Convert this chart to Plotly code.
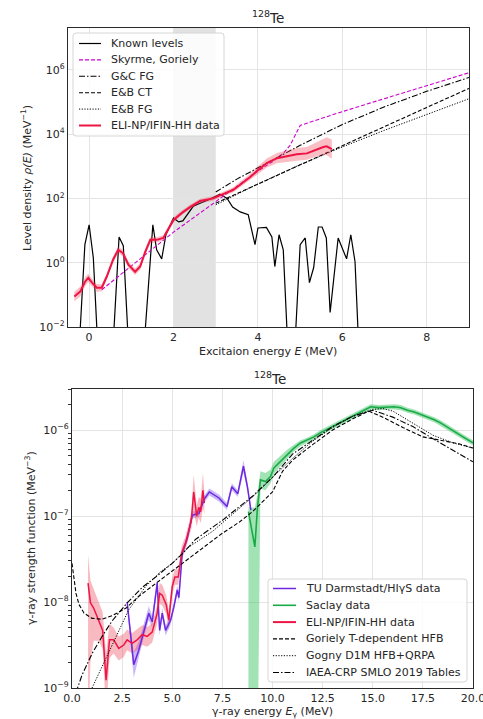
import numpy as np
import plotly.graph_objects as go

# ---------------- Top panel: level density of 128Te ----------------
known_E = [-0.25, -0.1, 0.0, 0.1, 0.22, 0.55, 0.71, 0.81, 0.95, 1.28, 1.51, 1.6, 1.72, 1.82,
           2.0, 2.12, 2.22, 2.35, 2.47, 2.63, 2.87, 3.1, 3.27, 3.4, 3.58, 3.77, 3.85, 3.93,
           4.0, 4.2, 4.33, 4.4, 4.5, 4.6, 4.72, 4.86, 5.0, 5.12, 5.22, 5.32, 5.43, 5.52,
           5.62, 5.71, 5.9, 6.1, 6.2, 6.3, 6.4]
known_log10 = [-3, 0.56, 1.18, 0.15, -3, -3, 0.8, 0.53, -3, -3, 1.18, 0.4, 0.12, 0.87,
               1.39, 1.27, 1.3, 1.55, 1.76, 1.85, 1.98, 2.13, 2.0, 1.73, 1.58, 1.49, 1.0, 0.56,
               1.08, 1.1, 0.8, -0.12, 0.87, 0.4, -3, -3, 0.56, 0.77, -0.62, -0.15, 1.11, 1.11,
               0.77, -1.55, 0.77, 0.12, 0.87, 0.03, -3]

eli_top_E = [-0.35, -0.21, -0.1, -0.02, 0.07, 0.18, 0.3, 0.42, 0.57, 0.69,
             0.8, 0.93, 1.09, 1.21, 1.33, 1.45, 1.6, 1.76, 1.84, 2.0,
             2.2, 2.39, 2.63, 2.94, 3.2, 3.41, 3.6, 3.81, 4.0, 4.21,
             4.45, 4.68, 4.92, 5.16, 5.4, 5.55, 5.63, 5.75]
eli_top_log10 = [-1.05, -0.9, -0.6, -0.47, -0.62, -0.78, -0.78, -0.43, 0.1, 0.4,
                 0.3, -0.06, -0.28, -0.12, 0.34, 0.71, 0.71, 0.77, 0.96, 1.33,
                 1.55, 1.73, 1.92, 2.0, 2.15, 2.26, 2.45, 2.66, 2.88, 3.1,
                 3.25, 3.31, 3.37, 3.4, 3.53, 3.6, 3.62, 3.53]
eli_top_err = [0.15, 0.15, 0.14, 0.13, 0.12, 0.12, 0.11, 0.1, 0.1, 0.1,
               0.1, 0.1, 0.1, 0.1, 0.1, 0.1, 0.08, 0.08, 0.08, 0.08,
               0.07, 0.07, 0.07, 0.07, 0.07, 0.08, 0.09, 0.1, 0.12, 0.14,
               0.16, 0.18, 0.2, 0.2, 0.22, 0.25, 0.28, 0.3]

skyrme_E = [0.3, 1.0, 2.0, 3.0, 4.0, 4.33, 4.6, 4.76, 5.0, 6.0, 7.0, 8.0, 9.0]
skyrme_log10 = [-0.84, -0.1, 0.95, 1.9, 2.85, 3.13, 3.4, 3.65, 4.27, 4.7, 5.1, 5.5, 5.91]

gc_fg_E = [3.0, 3.5, 4.0, 5.0, 6.0, 7.0, 8.0, 9.0]
gc_fg_log10 = [2.2, 2.6, 2.95, 3.65, 4.3, 4.85, 5.33, 5.76]

eb_ct_E = [3.0, 4.0, 5.0, 6.0, 7.0, 8.0, 9.0]
eb_ct_log10 = [1.85, 2.45, 3.04, 3.64, 4.23, 4.83, 5.42]

eb_fg_E = [3.0, 4.0, 5.0, 6.0, 7.0, 8.0, 9.0]
eb_fg_log10 = [1.8, 2.45, 3.05, 3.6, 4.12, 4.62, 5.1]

top_shade_E = [2.0, 3.0]
top_xticks = [0, 2, 4, 6, 8]
top_yticks_exp = [-2, 0, 2, 4, 6]

# ---------------- Bottom panel: gamma-ray strength function ----------------
eli_bot_E = [0.8, 0.92, 1.08, 1.33, 1.53, 1.7, 1.87, 2.08, 2.33, 2.58, 2.75, 3.0, 3.25, 3.5,
             3.75, 4.0, 4.25, 4.37, 4.5, 4.7, 4.83, 5.0, 5.13, 5.3, 5.47, 5.67, 5.83, 5.95,
             6.07, 6.22, 6.32, 6.42, 6.53, 6.6]
eli_bot_log10 = [-7.78, -8.01, -8.07, -8.21, -8.33, -8.91, -8.44, -8.44, -8.54, -8.5, -8.44,
                 -8.48, -8.44, -8.38, -8.4, -8.35, -8.13, -7.9, -7.92, -8.03, -8.21, -7.82,
                 -7.71, -7.71, -7.43, -7.31, -7.16, -7.05, -6.72, -7.0, -6.9, -6.95, -6.7, -6.85]
eli_bot_upper = [-7.45, -7.75, -7.85, -8.0, -8.12, -8.6, -8.25, -8.3, -8.4, -8.37, -8.32,
                 -8.36, -8.32, -8.27, -8.29, -8.25, -8.03, -7.78, -7.8, -7.92, -8.1, -7.72,
                 -7.62, -7.62, -7.35, -7.23, -7.08, -6.95, -6.52, -6.88, -6.78, -6.8, -6.5, -6.72]
eli_bot_lower = [-9.6, -8.7, -8.45, -8.45, -8.55, -9.3, -8.65, -8.6, -8.68, -8.64, -8.56,
                 -8.6, -8.56, -8.5, -8.52, -8.47, -8.25, -8.02, -8.04, -8.14, -8.33, -7.92,
                 -7.8, -7.8, -7.51, -7.39, -7.24, -7.15, -6.95, -7.12, -7.02, -7.08, -6.9, -6.98]

tu_E = [2.75, 3.08, 3.33, 3.58, 3.83, 4.0, 4.25, 4.37, 4.5, 4.67, 4.92, 5.08, 5.25, 5.33,
        5.5, 5.75, 6.0, 6.33, 6.58, 6.85, 7.33, 7.73, 7.97, 8.27, 8.55, 8.75, 8.92]
tu_log10 = [-8.0, -8.73, -8.56, -8.33, -8.13, -8.23, -7.78, -8.33, -8.13, -8.33, -8.21, -8.06,
            -7.86, -7.95, -7.43, -7.26, -6.99, -6.97, -6.81, -6.72, -6.79, -6.89, -6.66, -6.74,
            -6.42, -6.66, -6.93]
tu_err = [0.04, 0.15, 0.1, 0.08, 0.08, 0.07, 0.06, 0.06, 0.06, 0.06, 0.05, 0.05, 0.05, 0.05,
          0.05, 0.04, 0.04, 0.04, 0.04, 0.04, 0.04, 0.04, 0.04, 0.04, 0.07, 0.05, 0.05]

saclay_E = [8.8, 8.95, 9.12, 9.25, 9.4, 9.65, 9.9, 10.07, 10.4, 10.73, 11.07, 11.4, 11.73,
            12.07, 12.4, 12.73, 13.07, 13.4, 13.73, 14.07, 14.5, 14.9, 15.3, 15.73, 16.07,
            16.4, 16.73, 17.07, 17.4, 17.73, 18.07, 18.4, 18.73, 19.07, 19.5, 20.0]
saclay_log10 = [-6.95, -7.15, -7.36, -6.9, -6.58, -6.6, -6.54, -6.44, -6.36, -6.28, -6.21,
                -6.15, -6.12, -6.08, -6.03, -5.99, -5.95, -5.91, -5.87, -5.83, -5.78, -5.73,
                -5.74, -5.73, -5.73, -5.74, -5.77, -5.79, -5.82, -5.85, -5.88, -5.92, -5.97,
                -6.02, -6.08, -6.15]
saclay_upper = [-6.9, -6.9, -6.9, -6.75, -6.48, -6.5, -6.46, -6.37, -6.3, -6.23, -6.17,
                -6.12, -6.09, -6.05, -6.0, -5.96, -5.92, -5.88, -5.84, -5.8, -5.75, -5.7,
                -5.71, -5.7, -5.7, -5.71, -5.74, -5.76, -5.79, -5.82, -5.85, -5.89, -5.94,
                -5.99, -6.05, -6.12]
saclay_lower = [-10, -10, -10, -10, -6.68, -6.7, -6.62, -6.51, -6.42, -6.33, -6.25, -6.19,
                -6.15, -6.11, -6.06, -6.02, -5.98, -5.94, -5.9, -5.86, -5.81, -5.76, -5.77,
                -5.76, -5.76, -5.77, -5.8, -5.82, -5.85, -5.88, -5.91, -5.95, -6.0, -6.05,
                -6.11, -6.18]

goriely_E = [0.0, 0.1, 0.2, 0.35, 0.6, 1.0, 1.5, 2.0, 2.7, 3.35, 4.2, 5.0, 5.85, 6.7, 7.5,
             8.35, 9.0, 10.0, 10.5, 11.0, 12.0, 13.0, 14.0, 14.8, 15.5, 16.5, 17.5, 18.5,
             19.3, 20.0]
goriely_log10 = [-7.55, -7.72, -7.9, -8.03, -8.13, -8.19, -8.2, -8.16, -8.07, -7.93, -7.78,
                 -7.63, -7.49, -7.34, -7.2, -7.07, -6.95, -6.72, -6.48, -6.35, -6.17, -6.0,
                 -5.87, -5.78, -5.85, -5.97, -6.08, -6.12, -6.16, -6.21]

gogny_E = [1.0, 1.5, 2.0, 2.83, 3.67, 4.4, 5.0, 5.83, 7.0, 8.0, 9.0, 10.0, 11.0, 12.0, 13.0,
           14.0, 15.0, 15.5, 16.0, 17.0, 18.0, 19.0, 20.0]
gogny_log10 = [-9.0, -8.75, -8.52, -8.09, -7.82, -7.65, -7.55, -7.36, -7.18, -6.98, -6.78,
               -6.55, -6.33, -6.13, -5.97, -5.84, -5.76, -5.75, -5.78, -5.92, -6.06, -6.15, -6.21]

smlo_E = [0.2, 0.5, 1.0, 1.5, 2.0, 2.75, 3.5, 4.17, 5.0, 5.5, 6.17, 7.5, 9.0, 10.0, 11.0, 12.0,
          13.0, 14.0, 15.0, 16.0, 17.0, 18.0, 19.0, 20.0]
smlo_log10 = [-9.05, -8.85, -8.6, -8.4, -8.22, -8.01, -7.83, -7.71, -7.55, -7.44, -7.27, -7.05,
              -6.77, -6.55, -6.28, -6.12, -5.96, -5.84, -5.77, -5.85, -5.96, -6.1, -6.23, -6.37]

bot_xticks = [0.0, 2.5, 5.0, 7.5, 10.0, 12.5, 15.0, 17.5, 20.0]
bot_yticks_exp = [-9, -8, -7, -6]

# ---------------- styles ----------------
W, H = 483, 719
FONT = "DejaVu Sans"
TXT = "#262626"
RED = "rgb(238,20,70)"
S_KNOWN = dict(color="black", width=1.2)
S_SKYRME = dict(color="#cc00cc", width=1.1, dash="4px,2px")
S_DASH = dict(color="black", width=1.1, dash="4px,2px")
S_DASHDOT = dict(color="black", width=1.1, dash="6px,2px,1.5px,2px")
S_DOT = dict(color="black", width=1.0, dash="1.2px,1.5px")
S_RED_TOP = dict(color=RED, width=2)
S_RED = dict(color=RED, width=1.5)
S_TU = dict(color="rgb(110,40,225)", width=1.5)
S_SACLAY = dict(color="rgb(25,170,70)", width=1.6)


def px(x):
    return x / W


def py(y):
    return 1 - y / H


def pw(v):
    return [10.0 ** t for t in v]


def sup_label(e):
    return "10<sup>%s</sup>" % (str(e).replace("-", "\u2212"))


fig = go.Figure()

# gray shaded region (top)
fig.add_shape(type="rect", xref="x", yref="y domain", x0=top_shade_E[0], x1=top_shade_E[1],
              y0=0, y1=1, fillcolor="rgb(226,226,226)", line=dict(width=0), layer="below")


def line_trace(x, ylog, style, xa, ya):
    return go.Scatter(x=x, y=pw(ylog), mode="lines", line=style, xaxis=xa, yaxis=ya,
                      showlegend=False)


def band_trace(x, lo, hi, color, xa, ya):
    return go.Scatter(x=list(x) + list(x)[::-1], y=pw(hi) + pw(lo)[::-1], fill="toself",
                      fillcolor=color, line=dict(width=0), mode="lines", showlegend=False,
                      hoverinfo="skip", xaxis=xa, yaxis=ya)


# top traces
fig.add_trace(line_trace(known_E, known_log10, S_KNOWN, "x", "y"))
fig.add_trace(line_trace(skyrme_E, skyrme_log10, S_SKYRME, "x", "y"))
fig.add_trace(line_trace(gc_fg_E, gc_fg_log10, S_DASHDOT, "x", "y"))
fig.add_trace(line_trace(eb_ct_E, eb_ct_log10, S_DASH, "x", "y"))
fig.add_trace(line_trace(eb_fg_E, eb_fg_log10, S_DOT, "x", "y"))
lo = [v - e for v, e in zip(eli_top_log10, eli_top_err)]
hi = [v + e for v, e in zip(eli_top_log10, eli_top_err)]
fig.add_trace(band_trace(eli_top_E, lo, hi, "rgba(240,70,90,0.35)", "x", "y"))
fig.add_trace(line_trace(eli_top_E, eli_top_log10, S_RED_TOP, "x", "y"))

# bottom traces
fig.add_trace(band_trace(saclay_E, saclay_lower, saclay_upper, "rgba(70,200,110,0.5)", "x2", "y2"))
tlo = [v - e for v, e in zip(tu_log10, tu_err)]
thi = [v + e for v, e in zip(tu_log10, tu_err)]
fig.add_trace(band_trace(tu_E, tlo, thi, "rgba(120,80,240,0.4)", "x2", "y2"))
fig.add_trace(band_trace(eli_bot_E, eli_bot_lower, eli_bot_upper, "rgba(240,70,90,0.38)", "x2", "y2"))
fig.add_trace(line_trace(tu_E, tu_log10, S_TU, "x2", "y2"))
fig.add_trace(line_trace(saclay_E, saclay_log10, S_SACLAY, "x2", "y2"))
fig.add_trace(line_trace(eli_bot_E, eli_bot_log10, S_RED, "x2", "y2"))
fig.add_trace(line_trace(goriely_E, goriely_log10, S_DASH, "x2", "y2"))
fig.add_trace(line_trace(gogny_E, gogny_log10, S_DOT, "x2", "y2"))
fig.add_trace(line_trace(smlo_E, smlo_log10, S_DASHDOT, "x2", "y2"))

# ---------------- legends (matplotlib-like, drawn in paper space) ----------------
top_legend = [("Known levels", S_KNOWN), ("Skyrme, Goriely", S_SKYRME), ("G&C FG", S_DASHDOT),
              ("E&B CT", S_DASH), ("E&B FG", S_DOT), ("ELI-NP/IFIN-HH data", S_RED_TOP)]
bot_legend = [("TU Darmstadt/HI\u03b3S data", S_TU), ("Saclay data", S_SACLAY),
              ("ELI-NP/IFIN-HH data", S_RED_TOP), ("Goriely T-dependent HFB", S_DASH),
              ("Gogny D1M HFB+QRPA", S_DOT), ("IAEA-CRP SMLO 2019 Tables", S_DASHDOT)]


def rounded_box(x0, y0, x1, y1, r=3):
    X0, X1 = px(x0), px(x1)
    Y0, Y1 = py(y1), py(y0)  # bottom, top (paper)
    rx, ry = r / W, r / H
    return ("M {a},{b} L {c},{b} Q {X1},{Y0} {X1},{d} L {X1},{e} Q {X1},{Y1} {c},{Y1} "
            "L {a},{Y1} Q {X0},{Y1} {X0},{e} L {X0},{d} Q {X0},{Y0} {a},{b} Z").format(
        a=X0 + rx, b=Y0, c=X1 - rx, d=Y0 + ry, e=Y1 - ry, X0=X0, X1=X1, Y0=Y0, Y1=Y1)


def add_legend(entries, box, lx0, lx1, tx, y0, dy):
    fig.add_shape(type="path", path=rounded_box(*box), xref="paper", yref="paper",
                  fillcolor="rgba(255,255,255,0.85)", line=dict(color="rgb(214,214,214)", width=1),
                  layer="above")
    for i, (label, style) in enumerate(entries):
        yy = py(y0 + i * dy)
        fig.add_shape(type="line", xref="paper", yref="paper", x0=px(lx0), x1=px(lx1),
                      y0=yy, y1=yy, line=style, layer="above")
        fig.add_annotation(text=label, x=px(tx), y=yy, xref="paper", yref="paper",
                           showarrow=False, xanchor="left", yanchor="middle",
                           font=dict(family=FONT, size=11, color=TXT))


add_legend(top_legend, (73, 33, 224, 136), 79, 101, 109, 43.5, 16.4)
add_legend(bot_legend, (268, 579, 467, 682), 273, 296, 304, 588.5, 16.8)

axis_common = dict(showgrid=True, gridcolor="rgb(228,228,228)", gridwidth=1, zeroline=False,
                   showline=True, mirror=True, linecolor="#2a2a2a", linewidth=1.3,
                   ticks="", tickfont=dict(family=FONT, size=11, color=TXT),
                   ticklabeloverflow="allow", automargin=False)

minor_vals = [k * 10.0 ** d for d in range(-9, -5) for k in range(2, 10)]

fig.update_layout(
    width=W, height=H, margin=dict(l=0, r=0, t=0, b=0, autoexpand=False),
    paper_bgcolor="white", plot_bgcolor="white",
    font=dict(family=FONT, size=11, color=TXT),
    showlegend=False,
    xaxis=dict(domain=[px(68), px(469)], range=[-0.5, 9], anchor="y",
               tickvals=top_xticks, ticktext=[str(v) for v in top_xticks], **axis_common),
    yaxis=dict(domain=[py(327), py(28)], type="log", range=[-2, 7.3], anchor="x",
               tickvals=[10.0 ** e for e in top_yticks_exp],
               ticktext=[sup_label(e) for e in top_yticks_exp], **axis_common),
    xaxis2=dict(domain=[px(72), px(473)], range=[0, 20], anchor="y2",
                tickvals=bot_xticks, ticktext=["%.1f" % v for v in bot_xticks], **axis_common),
    yaxis2=dict(domain=[py(688), py(389)], type="log", range=[-9, np.log10(3e-6)], anchor="x2",
                tickvals=[10.0 ** e for e in bot_yticks_exp],
                ticktext=[sup_label(e) for e in bot_yticks_exp],
                minor=dict(tickvals=minor_vals, ticks="outside", ticklen=2.5,
                           tickcolor="#333333", showgrid=False),
                **axis_common),
)

ann = [
    dict(text="<sup>128</sup>Te", x=px(268), y=py(17), size=13.5),
    dict(text="<sup>128</sup>Te", x=px(270), y=py(378), size=13.5),
    dict(text="Excitaion energy <i>E</i> (MeV)", x=px(268), y=py(352), size=11),
    dict(text="\u03b3-ray energy <i>E</i><sub>\u03b3</sub> (MeV)", x=px(272), y=py(712), size=11),
]
for a in ann:
    fig.add_annotation(text=a["text"], x=a["x"], y=a["y"], xref="paper", yref="paper",
                       showarrow=False, xanchor="center", yanchor="middle",
                       font=dict(family=FONT, size=a["size"], color=TXT))
fig.add_annotation(text="Level density <i>\u03c1(E)</i> (MeV<sup>\u22121</sup>)", x=px(27),
                   y=py(178), xref="paper", yref="paper", showarrow=False, textangle=-90,
                   xanchor="center", yanchor="middle", font=dict(family=FONT, size=11, color=TXT))
fig.add_annotation(text="\u03b3-ray strength function (MeV<sup>\u22123</sup>)", x=px(30),
                   y=py(538), xref="paper", yref="paper", showarrow=False, textangle=-90,
                   xanchor="center", yanchor="middle", font=dict(family=FONT, size=11, color=TXT))

fig.write_html("out.html")
